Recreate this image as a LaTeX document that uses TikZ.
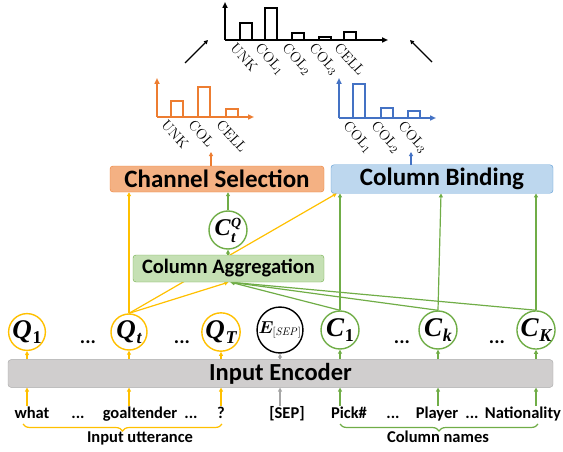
\documentclass[tikz,border=0pt]{standalone}
\usepackage[no-math]{fontspec}
\setmainfont{Carlito}
\newfontfamily\symfont{Liberation Serif}
\usepackage{amsmath,bm}
\usetikzlibrary{arrows.meta,decorations.pathreplacing,backgrounds,calc}
\definecolor{qyellow}{HTML}{FFC000}
\definecolor{cgreen}{HTML}{70AD47}
\definecolor{aggfill}{HTML}{C5E0B4}
\definecolor{corange}{HTML}{ED7D31}
\definecolor{selfill}{HTML}{F4B183}
\definecolor{cblue}{HTML}{4472C4}
\definecolor{bindline}{HTML}{5B9BD5}
\definecolor{bindfill}{HTML}{BDD7EE}
\definecolor{encgray}{HTML}{A6A6A6}
\definecolor{encfill}{HTML}{D0CECE}
% bold italic symbol with an index
\newcommand{\vsym}[2]{{\symfont\bfseries\itshape #1}\hspace{0.03em}\raisebox{-0.35ex}{\fontsize{18}{18}\selectfont\symfont\bfseries #2}}
\tikzset{
  encbox/.style={
    draw = encgray,
    fill = encfill,
    rounded corners = 3pt,
    minimum width = 545pt,
    minimum height = 27pt,
    font = \fontsize{24.5}{27}\selectfont\bfseries
  },
  qcirc/.style={
    shape = circle,
    draw = qyellow,
    line width = 1.4pt,
    minimum size = 36pt,
    inner sep = 0pt,
    font = \fontsize{27}{29}\selectfont
  },
  ccirc/.style={
    qcirc,
    draw = cgreen,
    minimum size = 38pt
  },
  sepcirc/.style={
    qcirc,
    draw = black,
    font = \fontsize{16}{18}\selectfont
  },
  aggbox/.style={
    draw = cgreen,
    fill = aggfill,
    rounded corners = 3pt,
    minimum width = 191pt,
    minimum height = 27pt,
    font = \fontsize{20.5}{23}\selectfont\bfseries
  },
  selbox/.style={
    aggbox,
    draw = corange,
    fill = selfill,
    minimum width = 214pt,
    minimum height = 26pt,
    font = \fontsize{25}{27}\selectfont\bfseries
  },
  bindbox/.style={
    selbox,
    draw = bindline,
    fill = bindfill,
    minimum width = 222pt
  }
}
\tikzset{
  word/.style={
    anchor = base,
    inner sep = 0pt,
    font = \fontsize{16.5}{18}\selectfont\bfseries
  },
  dots/.style={
    word,
    font = \fontsize{20}{20}\selectfont\bfseries
  },
  link/.style={
    line width = 1.2pt,
    -{Triangle[length=4pt,width=4pt]}
  },
  axis/.style={
    line width = 1.5pt,
    -{Triangle[length=6pt,width=5pt]}
  },
  bar/.style={
    line width = 1.5pt
  },
  barlabel/.style={
    anchor = north west,
    rotate = -48,
    inner sep = 0.5pt,
    font = \fontsize{15.5}{16}\selectfont
  },
  ubrace/.style={
    line width = 1.2pt,
    decorate,
    decoration = {brace, mirror, amplitude = 7pt}
  }
}

\begin{document}
\begin{tikzpicture}[x=1pt,y=-1pt]
\useasboundingbox (0,0) rectangle (563,452);
% encoder and its inputs / outputs
\node[encbox] (enc) at (280.5,373.5) {Input Encoder};
\node[qcirc] (q1) at (27,332) {\vsym{Q}{1}};
\node[qcirc] (qt) at (129,332) {\vsym{Q}{\itshape t}};
\node[qcirc] (qT) at (221,332) {\vsym{Q}{\itshape T}};
\node[sepcirc] (esep) at (280,330) {$\bm{E}_{[\mathit{SEP}]}$};
\node[ccirc] (c1) at (340,330) {\vsym{C}{1}};
\node[ccirc] (ck) at (438,330) {\vsym{C}{\itshape k}};
\node[ccirc] (cK) at (536,330) {\vsym{C}{\itshape K}};
\node[dots] (d1) at (88,343) {...};
\node[dots] (d2) at (182,343) {...};
\node[dots] (d3) at (402,343) {...};
\node[dots] (d4) at (497,343) {...};
\node[word] (what) at (32,418) {what};
\node[word] (w1) at (78,418) {...};
\node[word] (goal) at (140,418) {goaltender};
\node[word] (w2) at (191,418) {...};
\node[word] (qm) at (221,418) {?};
\node[word] (sep) at (287,418) {[SEP]};
\node[word] (pick) at (349,418) {Pick\#};
\node[word] (w3) at (393,418) {...};
\node[word] (player) at (437,418) {Player};
\node[word] (w4) at (472,418) {...};
\node[word] (nat) at (523,418) {Nationality};
\node[word] (utt) at (140,442) {Input utterance};
\node[word] (cols) at (438,442) {Column names};
% upper blocks
\node[aggbox] (agg) at (228.5,268.5) {Column Aggregation};
\node[ccirc,font=\fontsize{24}{26}\selectfont] (ctq) at (228,230)
  {{\symfont\bfseries\itshape C}\hspace{0.02em}\makebox[0pt][l]{\raisebox{-0.55ex}{\fontsize{16}{16}\selectfont\symfont\bfseries\itshape t}}\raisebox{0.75ex}{\fontsize{14}{14}\selectfont\symfont\bfseries\itshape Q}};
\node[selbox] (chsel) at (217,179) {Channel Selection};
\node[bindbox] (colbind) at (442,179) {Column Binding};

\begin{scope}[on background layer]
\foreach \n/\c in {q1/qyellow,qt/qyellow,qT/qyellow,esep/encgray,c1/cgreen,ck/cgreen,cK/cgreen}{
  \draw[link,\c] (\n |- what.north) -- (\n |- enc.south);
  \draw[link,\c] (\n |- enc.north) -- (\n.south);
}
\draw[link,qyellow] (qt.north) -- (qt.north |- chsel.south);
\draw[link,qyellow] (qt.north) -- ([xshift=6pt]colbind.south west);
\draw[link,qyellow] (qt.north) -- (agg.south);
\foreach \n in {c1,ck,cK}
  \draw[link,cgreen] (\n.north) -- ([xshift=2pt]agg.south);
\draw[link,cgreen] (c1.north) -- (c1.north |- colbind.south);
\draw[link,cgreen] (ck.north) -- ([xshift=3pt]ck.north |- colbind.south);
\draw[link,cgreen] (cK.north) -- (cK.north |- colbind.south);
\draw[link,cgreen] (agg.north -| ctq) -- (ctq.south);
\draw[link,cgreen] (ctq.north) -- (ctq.north |- chsel.south);
\end{scope}

\draw[ubrace,qyellow] (23,424) -- (222,424);
\draw[ubrace,cgreen] (340,424) -- (538,424);

% channel selection chart
\coordinate (ochart) at (211,152);
\draw[link,corange] (chsel.north -| ochart) -- (ochart);
\draw[axis,corange] (157,117) -- (157,78);
\draw[axis,corange] (157,117) -- (254,117);
\foreach \x/\h/\t in {171/101/{\mathrm{UNK}},198/87/{\mathrm{COL}},226/109/{\mathrm{CELL}}}{
  \draw[bar,corange] (\x,117) rectangle (\x+12,\h);
  \node[barlabel,black] at (\x-3,118) {$\t$};
}

% column binding chart
\coordinate (bchart) at (411,152);
\draw[link,cblue] (colbind.north -| bchart) -- (bchart);
\draw[axis,cblue] (339,118) -- (339,78);
\draw[axis,cblue] (339,118) -- (436,118);
\foreach \x/\h/\t in {353/84/{\mathrm{COL}_1},381/108/{\mathrm{COL}_2},408/111/{\mathrm{COL}_3}}{
  \draw[bar,cblue] (\x,118) rectangle (\x+12,\h);
  \node[barlabel,black] at (\x-3,119) {$\t$};
}

% merged chart
\draw[axis] (225,40) -- (225,2);
\draw[axis] (225,40) -- (388,40);
\foreach \x/\h/\t in {240/23/{\mathrm{UNK}},265/8/{\mathrm{COL}_1},292/33/{\mathrm{COL}_2},319/37/{\mathrm{COL}_3},344/32/{\mathrm{CELL}}}{
  \draw[bar] (\x,40) rectangle (\x+12,\h);
  \node[barlabel] at (\x-3,41) {$\t$};
}
\coordinate (lfrom) at (185,63);
\coordinate (lto) at (208,40);
\coordinate (rfrom) at (432,62);
\coordinate (rto) at (410,40);
\draw[link] (lfrom) -- (lto);
\draw[link] (rfrom) -- (rto);
\end{tikzpicture}
\end{document}
